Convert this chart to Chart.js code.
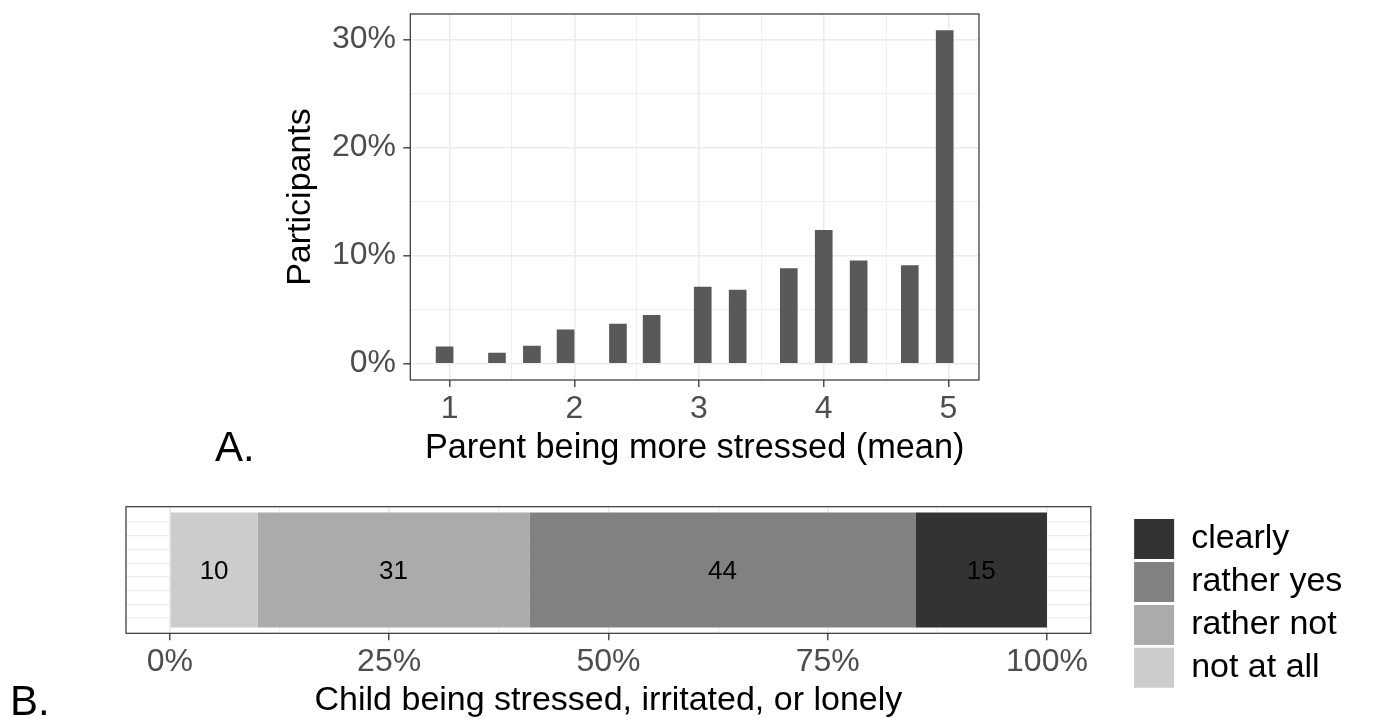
<!DOCTYPE html>
<html>
<head>
<meta charset="utf-8">
<script src="https://cdn.jsdelivr.net/npm/chart.js@4.4.1/dist/chart.umd.min.js"></script>
<style>
  html, body { margin: 0; padding: 0; background: #fff; overflow: hidden; }
  body { width: 1374px; height: 719px; position: relative; font-family: "Liberation Sans", Arial, sans-serif; }
  .wrap { position: absolute; left: 0; width: 1374px; }
  #wrapA { top: 0; height: 480px; }
  #wrapB { top: 489px; height: 230px; }
  .tag { position: absolute; font-size: 42px; line-height: 42px; color: #000; }
</style>
</head>
<body>
<div id="wrapA" class="wrap"><canvas id="stressA"></canvas></div>
<div id="wrapB" class="wrap"><canvas id="stressB"></canvas></div>
<div class="tag" style="left:215px; top:426px;">A.</div>
<div class="tag" style="left:10px; top:680px;">B.</div>
<script>
// Panel A: share of participants for each mean score
const meanScores = [0.96, 1.38, 1.66, 1.93, 2.35, 2.62, 3.03, 3.31, 3.72, 4.00, 4.28, 4.69, 4.97];
const participantShare = [1.52, 0.96, 1.61, 3.11, 3.64, 4.44, 7.06, 6.78, 8.78, 12.33, 9.49, 9.06, 30.81];
const scoreTicks = [1, 1.5, 2, 2.5, 3, 3.5, 4, 4.5, 5];
const shareTicks = [0, 5, 10, 15, 20, 25, 30];

// Panel B: child stressed / irritated / lonely (percent of answers)
const answerLabels = ['not at all', 'rather not', 'rather yes', 'clearly'];
const answerShares = [10, 31, 44, 15];
const percentTicks = [0, 12.5, 25, 37.5, 50, 62.5, 75, 87.5, 100];
const rowTicks = [0, 1, 2, 3, 4, 5, 6];

const GREYS = ['#cccccc', '#ababab', '#818181', '#333333'];
const GRID = '#ebebeb';
const INK = '#333333';

Chart.defaults.font.family = '"Liberation Sans", Arial, sans-serif';

// ggplot-style panel border
const panelBorder = {
  id: 'panelBorder',
  afterDraw(chart) {
    const { ctx, chartArea: a } = chart;
    ctx.save();
    ctx.strokeStyle = INK;
    ctx.lineWidth = 1.2;
    ctx.strokeRect(a.left, a.top, a.right - a.left, a.bottom - a.top);
    ctx.restore();
  }
};

// numbers written in the middle of each stacked segment
const barValues = {
  id: 'barValues',
  afterDatasetsDraw(chart) {
    const { ctx } = chart;
    ctx.save();
    ctx.font = '26px "Liberation Sans", Arial, sans-serif';
    ctx.fillStyle = '#000';
    ctx.textAlign = 'center';
    ctx.textBaseline = 'middle';
    chart.data.datasets.forEach((ds, i) => {
      const bar = chart.getDatasetMeta(i).data[0];
      ctx.fillText(String(ds.data[0]), (bar.x + bar.base) / 2, bar.y + 2);
    });
    ctx.restore();
  }
};

// fixed axis box sizes so both panels line up
function fixSize(w, h) {
  return scale => {
    if (w != null) scale.width = w;
    if (h != null) scale.height = h;
    scale.paddingTop = scale.paddingBottom = scale.paddingLeft = scale.paddingRight = 0;
  };
}
const useTicks = list => scale => { scale.ticks = list.map(v => ({ value: v })); };
const isMajor = (v, step) => Math.abs(v / step - Math.round(v / step)) < 1e-6;

new Chart(document.getElementById('stressA'), {
  type: 'bar',
  data: {
    datasets: [{
      data: meanScores.map((x, i) => ({ x, y: participantShare[i] })),
      backgroundColor: '#595959',
      borderWidth: 0,
      barThickness: 17
    }]
  },
  options: {
    responsive: true,
    maintainAspectRatio: false,
    animation: false,
    layout: { padding: { left: 281.8, top: 14, right: 395, bottom: 12.1 } },
    plugins: { legend: { display: false }, tooltip: { enabled: false } },
    scales: {
      x: {
        type: 'linear',
        offset: false,
        min: 0.685,
        max: 5.245,
        afterBuildTicks: useTicks(scoreTicks),
        afterFit: fixSize(null, 87.9),
        border: { display: false },
        grid: {
          offset: false,
          color: GRID,
          lineWidth: c => isMajor(c.tick.value, 1) ? 1.6 : 0.8,
          tickLength: 7,
          tickWidth: 1.3,
          tickColor: c => isMajor(c.tick.value, 1) ? INK : 'rgba(0,0,0,0)'
        },
        ticks: {
          autoSkip: false,
          maxRotation: 0,
          padding: 5.7,
          color: '#4d4d4d',
          font: { size: 32, lineHeight: 1 },
          callback: v => isMajor(v, 1) ? String(v) : ''
        },
        title: {
          display: true,
          text: 'Parent being more stressed (mean)',
          color: '#000',
          font: { size: 34.3, lineHeight: 1 },
          padding: { top: 0, bottom: 2 }
        }
      },
      y: {
        min: -1.54,
        max: 32.35,
        afterBuildTicks: useTicks(shareTicks),
        afterFit: fixSize(128.5, null),
        border: { display: false },
        grid: {
          color: GRID,
          lineWidth: c => isMajor(c.tick.value, 10) ? 1.6 : 0.8,
          tickLength: 7,
          tickWidth: 1.3,
          tickColor: c => isMajor(c.tick.value, 10) ? INK : 'rgba(0,0,0,0)'
        },
        ticks: {
          autoSkip: false,
          padding: 7.3,
          color: '#4d4d4d',
          font: { size: 32, lineHeight: 1 },
          callback: v => isMajor(v, 10) ? v + '%' : ''
        },
        title: {
          display: true,
          text: 'Participants',
          color: '#000',
          font: { size: 34, lineHeight: 1 },
          padding: { top: 2, bottom: 0 }
        }
      }
    }
  },
  plugins: [panelBorder]
});

new Chart(document.getElementById('stressB'), {
  type: 'bar',
  data: {
    labels: [''],
    datasets: answerLabels.map((label, i) => ({
      label,
      data: [answerShares[i]],
      backgroundColor: GREYS[i],
      borderWidth: 0,
      barPercentage: 0.908,
      categoryPercentage: 1
    }))
  },
  options: {
    indexAxis: 'y',
    responsive: true,
    maintainAspectRatio: false,
    animation: false,
    layout: { padding: { left: 126, top: 17.7, right: 21.7, bottom: 0 } },
    plugins: {
      tooltip: { enabled: false },
      legend: {
        position: 'right',
        align: 'start',
        reverse: true,
        title: { display: true, text: '', font: { size: 1, lineHeight: 1 }, padding: { top: 0, bottom: 8.5 } },
        labels: { boxWidth: 40, boxHeight: 40, padding: 2.9, color: '#000', font: { size: 34 } }
      }
    },
    scales: {
      x: {
        type: 'linear',
        stacked: true,
        min: -5,
        max: 105,
        afterBuildTicks: useTicks(percentTicks),
        afterFit: fixSize(null, 85.7),
        border: { display: false },
        grid: {
          color: GRID,
          lineWidth: c => isMajor(c.tick.value, 25) ? 1.6 : 0.8,
          tickLength: 7,
          tickWidth: 1.3,
          tickColor: c => isMajor(c.tick.value, 25) ? INK : 'rgba(0,0,0,0)'
        },
        ticks: {
          autoSkip: false,
          maxRotation: 0,
          padding: 5.9,
          color: '#4d4d4d',
          font: { size: 32, lineHeight: 1 },
          callback: v => isMajor(v, 25) ? v + '%' : ''
        },
        title: {
          display: true,
          text: 'Child being stressed, irritated, or lonely',
          color: '#000',
          font: { size: 34, lineHeight: 1 },
          padding: { top: 0, bottom: 1.1 }
        }
      },
      y: { stacked: true, display: false, offset: true },
      y2: {
        type: 'linear',
        position: 'right',
        min: -0.95,
        max: 6.95,
        afterBuildTicks: useTicks(rowTicks),
        afterFit: fixSize(40.4, null),
        border: { display: false },
        ticks: { display: false },
        grid: { color: GRID, lineWidth: 1.2, drawTicks: false }
      }
    }
  },
  plugins: [panelBorder, barValues]
});
</script>
</body>
</html>
